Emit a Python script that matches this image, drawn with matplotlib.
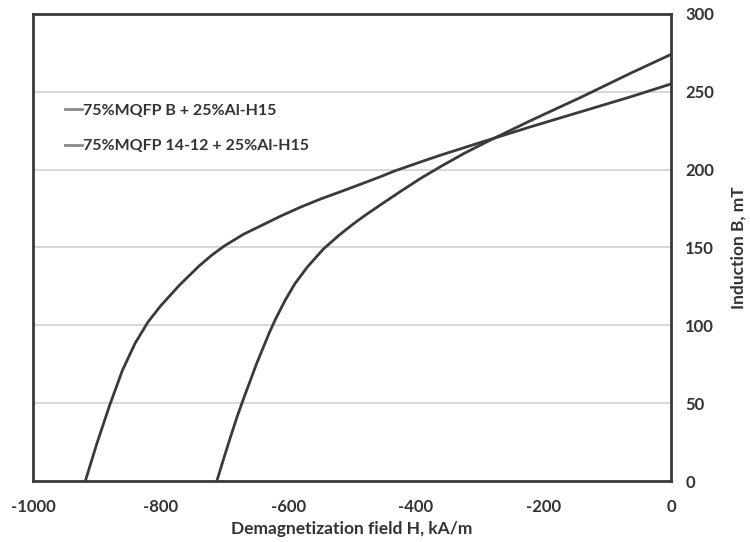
import matplotlib
matplotlib.use("Agg")
import matplotlib.pyplot as plt

plt.rcParams['font.family'] = ['Lato', 'DejaVu Sans']
plt.rcParams['font.weight'] = 'bold'
plt.rcParams['axes.unicode_minus'] = False

# demagnetization curves (H in kA/m, B in mT)
h_1412 = [-918, -900, -880, -860, -840, -820, -800, -770, -740, -720, -700, -670, -640,
          -610, -580, -550, -520, -497, -455, -434, -392, -361, -298, -220, -141, -63, 0]
b_1412 = [0, 24, 48.5, 71, 88.5, 102, 112.5, 126, 138, 145, 151, 158.5, 164.5,
          170.5, 176, 181, 185.5, 189, 195.5, 199, 205, 209.3, 217.5, 227.5, 237.2, 246.8, 255]

h_b = [-712, -700, -690, -680, -670, -660, -650, -640, -630, -620, -605, -590, -570,
       -545, -520, -500, -480, -455, -424, -392, -361, -324, -283, -220, -141, -63, 0]
b_b = [0, 16, 29, 41.5, 53, 64, 75, 85, 95, 104, 116, 126.5, 137.5,
       149, 158, 164.5, 170.5, 177.5, 186, 194.5, 202, 210.5, 219, 231.5, 246.5, 262, 274]

labels = ["75%MQFP B + 25%Al-H15", "75%MQFP 14-12 + 25%Al-H15"]
x_ticks = [-1000, -800, -600, -400, -200, 0]
y_ticks = [0, 50, 100, 150, 200, 250, 300]

ink = "#3a3a3a"

fig = plt.figure(figsize=(7.5, 5.42), dpi=100)
ax = fig.add_axes([0.044, 0.1125, 0.851, 0.862])

ax.plot(h_b, b_b, color=ink, lw=2.0, label=labels[0], solid_joinstyle="round")
ax.plot(h_1412, b_1412, color=ink, lw=2.0, label=labels[1], solid_joinstyle="round")

ax.set_xlim(-1000, 0)
ax.set_ylim(0, 300)
ax.set_xticks(x_ticks)
ax.set_yticks(y_ticks)
ax.yaxis.tick_right()
ax.yaxis.set_label_position("right")
ax.tick_params(length=0, labelsize=12, colors="#333333")
ax.tick_params(axis="x", pad=13)
ax.tick_params(axis="y", pad=10)
ax.grid(axis="y", color="#d4d4d4", lw=1.3)
ax.set_axisbelow(True)
for s in ax.spines.values():
    s.set_color(ink)
    s.set_linewidth(2)

ax.set_xlabel("Demagnetization field H, kA/m", fontsize=12.5, fontweight="bold", color="#333333", labelpad=4)
ax.set_ylabel("Induction B, mT", fontsize=12.5, fontweight="bold", color="#333333", labelpad=12)

leg = ax.legend(loc="upper left", bbox_to_anchor=(0.04, 0.822), frameon=False,
                fontsize=11.5, handlelength=1.05, handletextpad=0.1, labelspacing=1.35,
                borderaxespad=0)
for line in leg.get_lines():
    line.set_color("#8a8a8a")
    line.set_linewidth(2)
for t in leg.get_texts():
    t.set_color("#333333")

fig.savefig("out.png", dpi=100)
